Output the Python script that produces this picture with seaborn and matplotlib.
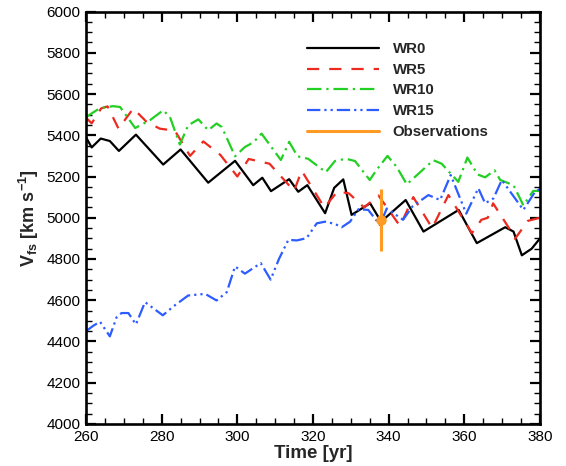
import numpy as np
import pandas as pd
import matplotlib
matplotlib.use("Agg")
import matplotlib.pyplot as plt
from matplotlib.lines import Line2D
from matplotlib.ticker import MultipleLocator
import seaborn as sns

# ---------------- data ----------------
wr0_t = [260, 261.5, 263.9, 266.3, 268.7, 273.2, 280.4, 285.0, 292.3, 299.4,
         304.2, 306.6, 308.9, 313.7, 316.1, 318.5, 323.2, 325.6, 328.0, 330.2,
         335.1, 338.0, 344.5, 349.2, 358.5, 363.3, 370.8, 373.0, 375.2, 377.8, 380]
wr0_v = [5390, 5341, 5384, 5372, 5324, 5403, 5258, 5331, 5170, 5276,
         5158, 5194, 5129, 5187, 5126, 5158, 5022, 5145, 5186, 5014,
         5070, 4981, 5086, 4933, 5038, 4877, 4954, 4933, 4818, 4850, 4900]

wr5_t = [260, 261.5, 264.0, 265.7, 268.6, 272.5, 276.0, 279.5, 283.5, 287.5,
         291.0, 295.5, 300.0, 303.0, 308.5, 315.0, 317.0, 323.0, 326.5, 329.5,
         333.5, 337.3, 343.0, 346.5, 351.5, 355.8, 362.0, 364.5, 366.2, 367.6,
         371.8, 373.4, 376.8, 380]
wr5_v = [5485, 5458, 5530, 5540, 5432, 5530, 5465, 5432, 5422, 5300,
         5370, 5305, 5200, 5285, 5262, 5130, 5228, 5050, 5128, 5118,
         5050, 5108, 4960, 5100, 4950, 5110, 4925, 4990, 5000, 5070,
         4950, 4898, 4985, 5000]

wr10_t = [260, 263.7, 267.2, 269.0, 273.0, 276.9, 280.4, 282.2, 284.8, 287.0,
          289.7, 292.3, 294.5, 295.9, 299.4, 302.0, 304.2, 306.4, 311.5, 313.7,
          315.9, 318.7, 323.4, 325.8, 328.7, 331.1, 335.0, 336.8, 339.7, 342.1,
          344.8, 351.8, 354.0, 358.4, 360.8, 363.5, 365.5, 368.0, 369.5, 373.0,
          375.6, 378.2, 380]
wr10_v = [5488, 5532, 5541, 5537, 5435, 5473, 5521, 5488, 5355, 5448,
          5477, 5424, 5457, 5440, 5298, 5343, 5365, 5408, 5280, 5368,
          5298, 5286, 5221, 5275, 5286, 5275, 5183, 5232, 5300, 5247,
          5162, 5279, 5262, 5174, 5292, 5210, 5196, 5230, 5183, 5158,
          5060, 5130, 5130]

wr15_t = [260, 261.9, 263.7, 266.3, 268.1, 269.4, 271.2, 273.2, 275.6, 280.3,
          283.1, 287.0, 291.5, 294.5, 297.2, 299.4, 302.0, 306.2, 308.8, 311.0,
          313.5, 315.7, 318.3, 321.0, 323.2, 325.8, 327.6, 329.8, 332.0, 334.6,
          337.7, 339.5, 343.8, 346.3, 350.5, 353.6, 356.4, 360.5, 363.7, 365.5,
          367.7, 369.9, 375.6, 378.7, 380]
wr15_v = [4450, 4476, 4496, 4425, 4518, 4538, 4538, 4483, 4591, 4527,
          4570, 4623, 4631, 4599, 4639, 4764, 4729, 4780, 4700, 4800,
          4893, 4890, 4901, 4973, 4981, 4970, 4954, 4981, 5041, 5038,
          4965, 5045, 4990, 5055, 5110, 5086, 5207, 5020, 5143, 5070,
          5094, 5183, 5038, 5126, 5140]

obs_t = [338.0]
obs_v = [4990]
obs_err = [150]

series_names = ["WR0", "WR5", "WR10", "WR15"]
series_t = [wr0_t, wr5_t, wr10_t, wr15_t]
series_v = [wr0_v, wr5_v, wr10_v, wr15_v]

# ---------------- styling ----------------
sns.set_theme(style="ticks")
plt.rcParams["font.family"] = ["Liberation Sans", "DejaVu Sans"]
plt.rcParams["mathtext.fontset"] = "custom"
plt.rcParams["mathtext.rm"] = "Liberation Sans"
plt.rcParams["mathtext.bf"] = "Liberation Sans:bold"

colors = {"WR0": "#000000", "WR5": "#ec2a1f", "WR10": "#22cf22", "WR15": "#2d5cff"}
styles = {"WR0": "-",
          "WR5": (0, (5.5, 4.5)),
          "WR10": (0, (6.5, 2.2, 1.0, 2.2)),
          "WR15": (0, (6.0, 1.8, 1.0, 1.8, 1.0, 1.8))}
obs_color = "#ff9a22"

fig = plt.figure(figsize=(5.66, 4.66), dpi=100)
ax = fig.add_axes([86 / 566, 1 - 424 / 466, (540 - 86) / 566, (424 - 11.5) / 466])

frames = []
for name, t, v in zip(series_names, series_t, series_v):
    frames.append(pd.DataFrame({"time": t, "v": v, "model": name}))
df = pd.concat(frames, ignore_index=True)

handles = []
for name in series_names:
    sub = df[df["model"] == name]
    sns.lineplot(data=sub, x="time", y="v", ax=ax, color=colors[name],
                 linestyle=styles[name], linewidth=1.6, estimator=None,
                 sort=False, legend=False)
    handles.append(Line2D([], [], color=colors[name], linestyle=styles[name],
                          linewidth=1.6, label=name))

ax.errorbar(obs_t, obs_v, yerr=obs_err, fmt="o", color=obs_color, ms=6.5,
            elinewidth=2.2, capsize=0, zorder=5)
handles.append(Line2D([], [], color=obs_color, linewidth=2.2, label="Observations"))

ax.set_xlim(260, 380)
ax.set_ylim(4000, 6000)
ax.xaxis.set_major_locator(MultipleLocator(20))
ax.xaxis.set_minor_locator(MultipleLocator(5))
ax.yaxis.set_major_locator(MultipleLocator(200))
ax.yaxis.set_minor_locator(MultipleLocator(50))

ax.tick_params(which="both", direction="in", top=True, right=True,
               bottom=True, left=True, colors="black")
ax.tick_params(which="major", length=7, width=1.6, labelsize=11, pad=4)
ax.tick_params(which="minor", length=4, width=1.0)
for sp in ax.spines.values():
    sp.set_linewidth(1.9)
    sp.set_color("black")

ax.set_xlabel("Time [yr]", fontsize=13.5, fontweight="bold", labelpad=1)
ax.set_ylabel(r"V$_{\mathbf{fs}}$ [km s$^{\mathbf{-1}}$]", fontsize=13,
              fontweight="bold", labelpad=4)

leg = ax.legend(handles=handles, loc="upper left",
                bbox_to_anchor=(307 / 566, 1 - 42 / 466),
                bbox_transform=fig.transFigure, frameon=False,
                prop={"weight": "bold", "size": 10.8},
                handlelength=4.8, handletextpad=0.9, labelspacing=0.45,
                borderpad=0, borderaxespad=0)

fig.savefig("out.png", dpi=100)
